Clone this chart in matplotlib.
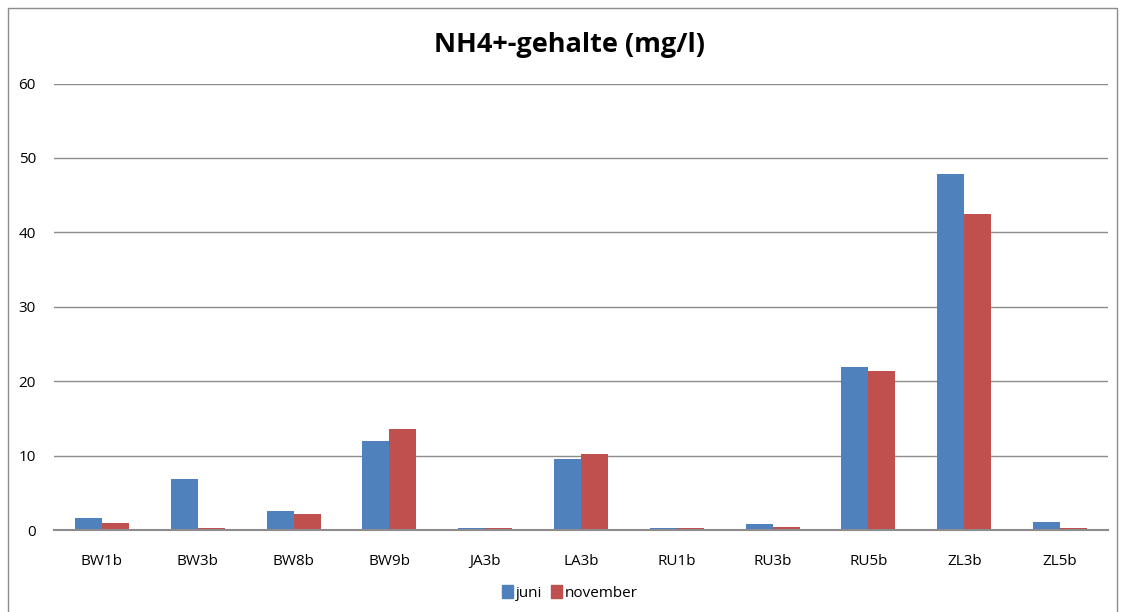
import matplotlib
matplotlib.use("Agg")
import matplotlib.pyplot as plt
import numpy as np
from matplotlib.patches import Rectangle, Patch

categories = ["BW1b", "BW3b", "BW8b", "BW9b", "JA3b", "LA3b", "RU1b", "RU3b", "RU5b", "ZL3b", "ZL5b"]
juni = [1.6, 6.9, 2.55, 12.0, 0.3, 9.6, 0.3, 0.77, 21.9, 47.8, 1.1]
november = [0.9, 0.3, 2.2, 13.6, 0.3, 10.2, 0.3, 0.4, 21.4, 42.5, 0.3]
series_names = ["juni", "november"]
yticks = [0, 10, 20, 30, 40, 50, 60]
title = "NH4+-gehalte (mg/l)"

plt.rcParams['font.family'] = ['Open Sans', 'DejaVu Sans']

fig = plt.figure(figsize=(11.22, 6.12), dpi=100)
ax = fig.add_axes([54/1122, 1-530/612, (1108-54)/1122, (530-83.5)/612])

x = np.arange(len(categories))
w = 0.282
blue = "#4F81BD"
red = "#C0504D"
ax.bar(x - w/2, juni, width=w, color=blue, zorder=3)
ax.bar(x + w/2, november, width=w, color=red, zorder=3)

ax.set_xlim(-0.5, len(categories) - 0.5)
ax.set_ylim(0, 60)
ax.set_yticks(yticks)
ax.set_xticks(x)
ax.set_xticklabels(categories)
ax.tick_params(axis='both', length=0, labelsize=11, colors="#000000")
ax.tick_params(axis='y', pad=13)
ax.tick_params(axis='x', pad=17)
ax.grid(axis='y', color="#8C8C8C", linewidth=1.0, zorder=0)
for s in ["left", "right", "top"]:
    ax.spines[s].set_visible(False)
ax.spines["bottom"].set_color("#8C8C8C")
ax.spines["bottom"].set_linewidth(1.5)
ax.spines["bottom"].set_zorder(4)

fig.text(569/1122, 1-45/612, title, ha="center", va="center", fontsize=19.5, fontweight="bold")

handles = [Patch(color=blue), Patch(color=red)]
fig.legend(handles, series_names, loc="center", bbox_to_anchor=(570/1122, 1-593/612),
           ncol=2, frameon=False, fontsize=11, handlelength=0.7, handleheight=0.9,
           handletextpad=0.2, columnspacing=0.6)

fig.patches.append(Rectangle((8/1122, -0.01), (1117-8)/1122, 1-8/612+0.01,
                             transform=fig.transFigure, fill=False, edgecolor="#8C8C8C", linewidth=1))

fig.savefig("out.png", dpi=100)
